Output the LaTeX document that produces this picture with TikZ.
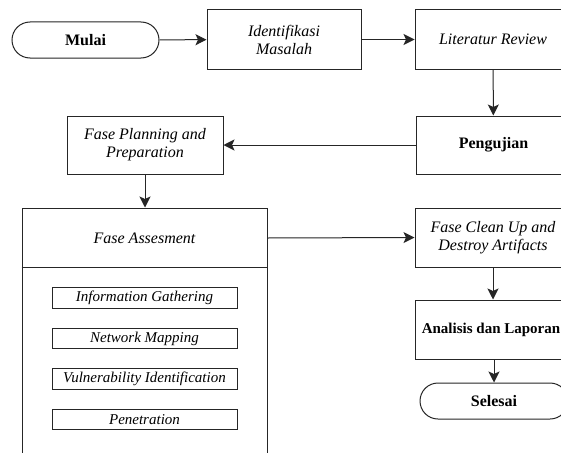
\documentclass[tikz,border=0pt]{standalone}
\usepackage{fontspec}
\setmainfont{Liberation Serif}
\usetikzlibrary{arrows.meta}
\begin{document}
\begin{tikzpicture}[x=1pt,y=-1pt,
  lw/.style={line width=1pt, draw=black!85},
  box/.style={lw, rectangle, inner sep=1pt, align=center, font=\fontsize{16}{18}\selectfont},
  stadium/.style={lw, rectangle, rounded corners=18pt, minimum width=147pt, minimum height=36pt, font=\fontsize{16}{18}\selectfont\bfseries},
  sub/.style={lw, rectangle, minimum width=185pt, minimum height=20.5pt, inner sep=0pt, font=\fontsize{15}{16}\selectfont\itshape},
  arr/.style={lw, -{Stealth[length=11pt,width=11pt,inset=2.5pt]}}
]
\useasboundingbox (0,0) rectangle (561,452);
\clip (0,0) rectangle (561,452);
\fill[white] (0,0) rectangle (561,452);

\node[stadium] (mulai) at (85.5,40) {Mulai};
\node[box, minimum width=154pt, minimum height=59pt] (ident) at (284,39.5) {\itshape Identifikasi\\\itshape Masalah};
\node[box, minimum width=156pt, minimum height=59pt] (lit) at (493,39.5) {\itshape Literatur Review};
\node[box, minimum width=155pt, minimum height=58pt] (peng) at (493.5,145) {\bfseries Pengujian};
\node[box, minimum width=156pt, minimum height=58pt] (plan) at (145,145) {\itshape Fase Planning and\\\itshape Preparation};
\node[lw, rectangle, minimum width=245pt, minimum height=262pt, inner sep=0pt] (ass) at (144.5,339) {};
\node[font=\fontsize{16}{18}\selectfont\itshape] (asstitle) at (144.5,238) {Fase Assesment};
\coordinate (div) at (0,267);
\draw[lw] (ass.west |- div) -- (ass.east |- div);
\node[sub] (info) at (144.5,298) {Information Gathering};
\node[sub] (net) at (144.5,338.5) {Network Mapping};
\node[sub] (vuln) at (144.5,379) {Vulnerability Identification};
\node[sub] (pen) at (144.5,419.5) {Penetration};
\node[box, minimum width=156pt, minimum height=59pt] (clean) at (493,237.5) {\itshape Fase Clean Up and\\\itshape Destroy Artifacts};
\node[box, minimum width=156pt, minimum height=59pt] (anal) at (493,329.5) {};
\node[font=\fontsize{15}{18}\selectfont\bfseries, inner sep=0pt] (analtext) at (491,329.5) {Analisis dan Laporan};
\node[stadium, minimum width=148pt] (sel) at (494,401) {Selesai};

\draw[arr] (mulai) -- (ident);
\draw[arr] (ident) -- (lit);
\draw[arr] (lit) -- (peng);
\draw[arr] (peng) -- (plan);
\draw[arr] (plan.south) -- (plan.south |- ass.north);
\draw[arr] (asstitle -| ass.east) -- (clean.west);
\draw[arr] (clean) -- (anal);
\draw[arr] (anal.south -| sel.north) -- (sel.north);
\end{tikzpicture}
\end{document}
